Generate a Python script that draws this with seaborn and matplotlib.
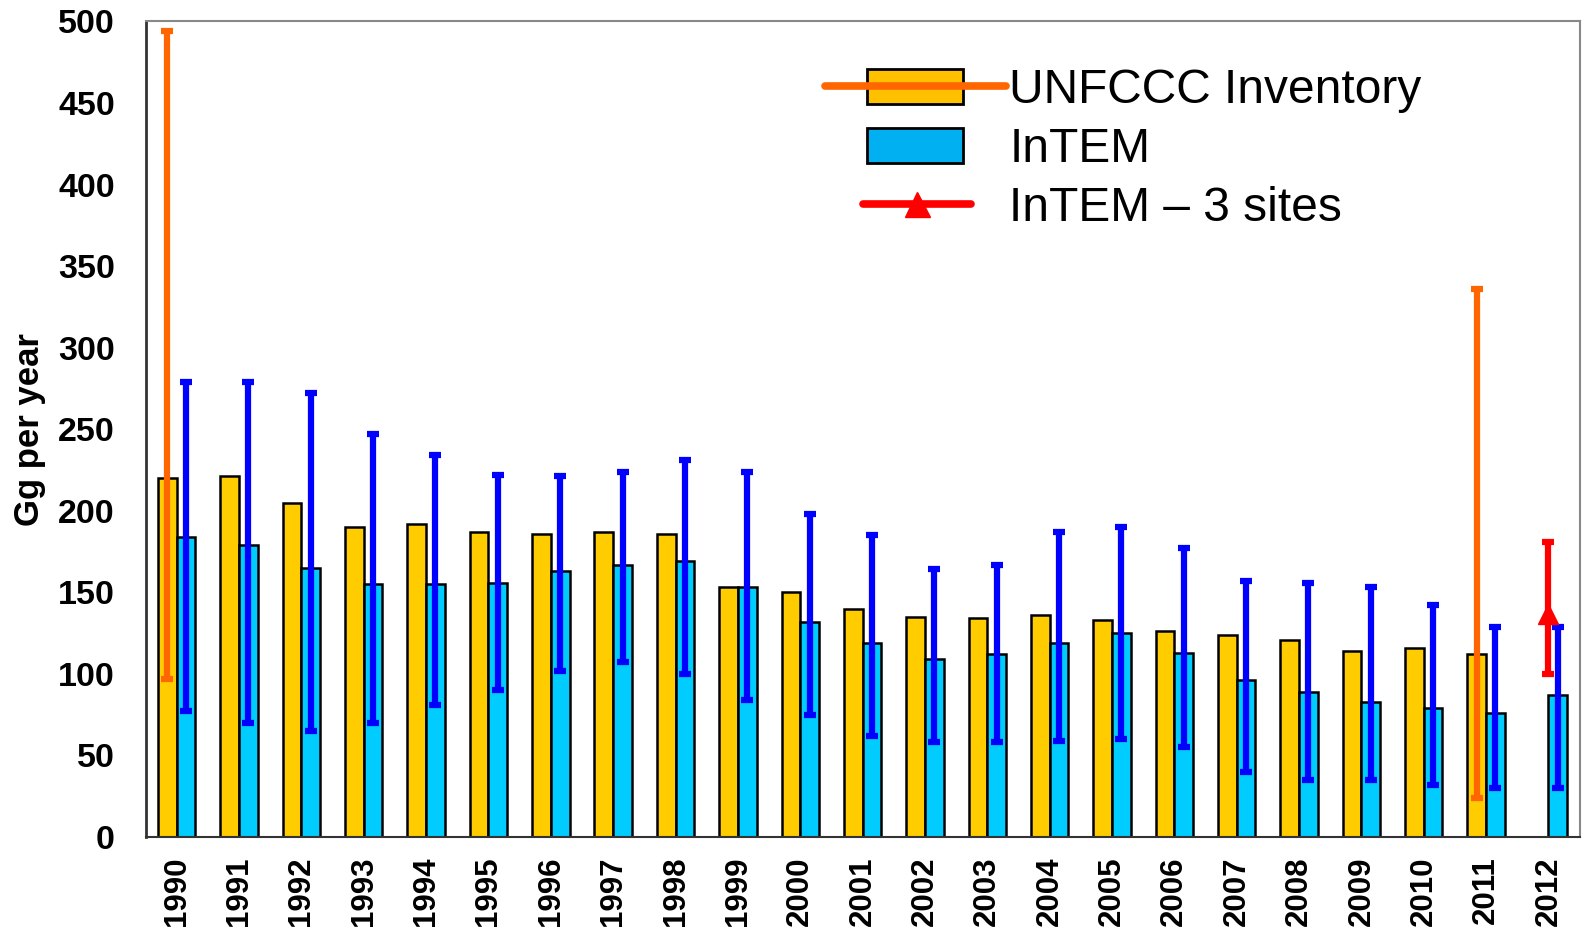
import numpy as np
import pandas as pd
import matplotlib.pyplot as plt
import seaborn as sns
from matplotlib.patches import Patch, Rectangle
from matplotlib.lines import Line2D
from matplotlib.legend_handler import HandlerTuple, HandlerPatch, HandlerLine2D

years = [str(y) for y in range(1990, 2013)]
unfccc = [220, 221, 205, 190, 192, 187, 186, 187, 186, 153, 150, 140,
          135, 134, 136, 133, 126, 124, 121, 114, 116, 112, np.nan]
intem = [184, 179, 165, 155, 155, 156, 163, 167, 169, 153, 132, 119,
         109, 112, 119, 125, 113, 96, 89, 83, 79, 76, 87]
intem_lo = [77, 70, 65, 70, 81, 90, 102, 107, 100, 84, 75, 62,
            58, 58, 59, 60, 55, 40, 35, 35, 32, 30, 30]
intem_hi = [279, 279, 272, 247, 234, 222, 221, 224, 231, 224, 198, 185,
            164, 167, 187, 190, 177, 157, 156, 153, 142, 129, 129]
# UNFCCC uncertainty only given for two years
unfccc_err_years = ["1990", "2011"]
unfccc_lo = [97, 24]
unfccc_hi = [494, 336]
# InTEM with 3 sites, 2012 only
sites3_year = "2012"
sites3_val = 137
sites3_lo = 100
sites3_hi = 181

series = ["UNFCCC Inventory", "InTEM"]
gold = "#FFCC00"
cyan = "#00CCFF"


def narrow_patch(legend, orig_handle, xdescent, ydescent, width, height, fontsize):
    # legend box narrower than the handle slot
    w = width * 0.53
    return Rectangle((-xdescent + (width - w) / 2, -ydescent), w, height)


class ShortLine(HandlerLine2D):
    def create_artists(self, legend, orig_handle, xdescent, ydescent, width,
                       height, fontsize, trans):
        return super().create_artists(legend, orig_handle, xdescent - 0.21 * width,
                                      ydescent, width * 0.6, height, fontsize, trans)


def main():
    sns.set_style("white")
    plt.rcParams['font.family'] = ['Liberation Sans', 'DejaVu Sans']
    plt.rcParams['text.color'] = 'black'
    plt.rcParams['axes.labelcolor'] = 'black'
    plt.rcParams['xtick.color'] = 'black'
    plt.rcParams['ytick.color'] = 'black'

    df = pd.DataFrame({
        "Year": years * 2,
        "Series": [series[0]] * len(years) + [series[1]] * len(years),
        "Value": unfccc + intem,
    }).dropna()

    fig, ax = plt.subplots(figsize=(15.82, 9.31), dpi=100)
    fig.subplots_adjust(left=0.092, right=0.9985, top=0.977, bottom=0.101)

    sns.barplot(data=df, x="Year", y="Value", hue="Series", order=years,
                hue_order=series, palette=[gold, cyan], saturation=1,
                width=0.6, edgecolor="black", linewidth=1.8, legend=False, ax=ax)

    # bar centres from the drawn patches
    intem_bars = ax.containers[1]
    x_intem = np.array([p.get_x() + p.get_width() / 2 for p in intem_bars])
    bw = intem_bars[0].get_width()
    x_unf = x_intem - bw

    intem_arr = np.array(intem, dtype=float)
    ax.errorbar(x_intem, intem_arr,
                yerr=[intem_arr - np.array(intem_lo), np.array(intem_hi) - intem_arr],
                fmt='none', ecolor='#0000FF', elinewidth=4.5, capsize=4.5, capthick=4.5,
                zorder=3)

    idx = [years.index(y) for y in unfccc_err_years]
    uv = np.array([unfccc[i] for i in idx], dtype=float)
    ax.errorbar(x_unf[idx], uv,
                yerr=[uv - np.array(unfccc_lo), np.array(unfccc_hi) - uv],
                fmt='none', ecolor='#FF6600', elinewidth=4.5, capsize=4.5, capthick=4.5,
                zorder=3)

    i3 = years.index(sites3_year)
    ax.errorbar([x_intem[i3] - bw / 2], [sites3_val],
                yerr=[[sites3_val - sites3_lo], [sites3_hi - sites3_val]],
                fmt='^', color='#FF0000', ms=15, elinewidth=4.5, capsize=4.5,
                capthick=4.5, zorder=4)

    ax.set_ylim(0, 500)
    ax.set_yticks(range(0, 501, 50))
    ax.set_xlim(-0.5, len(years) - 0.5)
    ax.set_xlabel("")
    ax.set_ylabel("Gg per year", fontsize=25, fontweight='bold', labelpad=9)

    ax.tick_params(axis='y', direction='inout', length=16, width=1.3, pad=14,
                   labelsize=24.5, color='#222222')
    for t in ax.get_yticklabels():
        t.set_fontweight('bold')
    ax.set_xticks(np.arange(-0.5, len(years), 1.0), minor=True)
    ax.tick_params(axis='x', which='major', length=0, pad=14, labelsize=22.5,
                   labelrotation=90)
    ax.tick_params(axis='x', which='minor', direction='out', length=8, width=1.3,
                   color='#444444')
    for t in ax.get_xticklabels():
        t.set_fontweight('bold')

    ax.spines['left'].set_color('#333333')
    ax.spines['left'].set_linewidth(2)
    ax.spines['bottom'].set_color('#333333')
    ax.spines['bottom'].set_linewidth(1.5)
    for s in ['top', 'right']:
        ax.spines[s].set_color('#888888')
        ax.spines[s].set_linewidth(1.5)

    p_gold = Patch(facecolor='#FFC000', edgecolor='black', linewidth=2)
    l_orange = Line2D([], [], color='#FF6600', lw=5.5)
    p_cyan = Patch(facecolor='#00B0F0', edgecolor='black', linewidth=2)
    l_red = Line2D([], [], color='#FF0000', lw=5.5, marker='^', ms=18)
    fig.legend([(p_gold, l_orange), p_cyan, l_red],
               ["UNFCCC Inventory", "InTEM", "InTEM \u2013 3 sites"],
               handler_map={tuple: HandlerTuple(ndivide=1, pad=0),
                            Patch: HandlerPatch(patch_func=narrow_patch),
                            l_red: ShortLine()},
               loc='upper left', bbox_to_anchor=(0.5215, 0.927), frameon=False,
               fontsize=34.5, handlelength=3.77, handleheight=0.75,
               handletextpad=0.08, labelspacing=0.29, borderpad=0, borderaxespad=0)

    plt.savefig("out.png", dpi=100)


if __name__ == "__main__":
    main()
